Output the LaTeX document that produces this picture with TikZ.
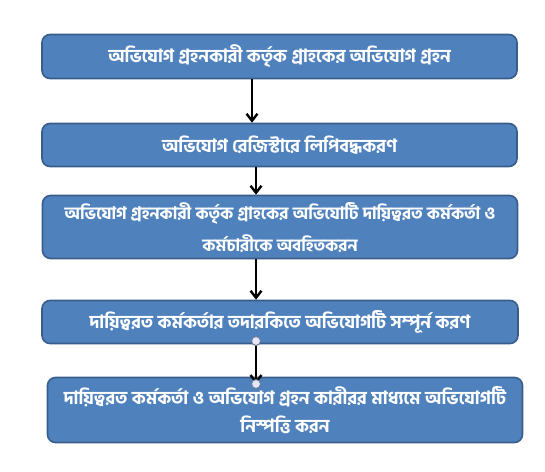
\documentclass[tikz,border=0pt]{standalone}
\usepackage{fontspec}
\newfontfamily\bnfont[Script=Bengali,BoldFont={Hind Siliguri Bold}]{Hind Siliguri}
\usepackage{tikz}
\usetikzlibrary{positioning,arrows.meta}
\definecolor{boxfill}{HTML}{4F81BD}
\definecolor{boxline}{HTML}{385D8A}
\definecolor{dotline}{HTML}{6E7F91}

\begin{document}
\begin{tikzpicture}[x=1pt,y=-1pt,
    stepbox/.style={draw=boxline,line width=1.6pt,fill=boxfill,rounded corners=8pt,
      text=white,align=center,font=\bnfont\bfseries\fontsize{18}{31}\selectfont,inner sep=0pt},
    flow/.style={line width=2.6pt,-{Straight Barb[length=7pt,width=11pt,line width=2.4pt]}},
    handle/.style={draw=dotline,fill=white!90!blue,line width=1pt}]
    \useasboundingbox (0,0) rectangle (545,471);
    % boxes
    \node[stepbox,minimum width=475pt,minimum height=44pt] (recv) at (279.5,56.5)
      {অভিযোগ গ্রহনকারী কর্তৃক গ্রাহকের অভিযোগ গ্রহন};
    \node[stepbox,minimum width=475pt,minimum height=43pt] (reg) at (279.5,145)
      {অভিযোগ রেজিস্টারে লিপিবদ্ধকরণ};
    \node[stepbox,minimum width=475pt,minimum height=63pt,
      font=\bnfont\bfseries\fontsize{17}{32}\selectfont] (inform) at (280,227)
      {অভিযোগ গ্রহনকারী কর্তৃক গ্রাহকের অভিযোটি দায়িত্বরত কর্মকর্তা ও\\কর্মচারীকে অবহিতকরন};
    \node[stepbox,minimum width=476pt,minimum height=43pt] (super) at (280,322)
      {দায়িত্বরত কর্মকর্তার তদারকিতে অভিযোগটি সম্পূর্ন করণ};
    \node[stepbox,minimum width=475pt,minimum height=65pt,
      font=\bnfont\bfseries\fontsize{18}{28}\selectfont] (settle) at (285,410)
      {দায়িত্বরত কর্মকর্তা ও অভিযোগ গ্রহন কারীরর মাধ্যমে অভিযোগটি\\নিস্পত্তি করন};
    % arrows
    \coordinate (a1) at (252,0);
    \coordinate (a2) at (256,0);
    \draw[flow] (recv.south -| a1) -- (reg.north -| a1);
    \draw[flow] (reg.south -| a2) -- (inform.north -| a2);
    \draw[flow] (inform.south -| a2) -- (super.north -| a2);
    \coordinate (h1) at (256,341);
    \coordinate (h2) at (256,384);
    \draw[flow] (h1) -- (h2);
    \draw[handle] (h1) circle (4.5pt);
    \draw[handle] (h2) circle (4.5pt);
\end{tikzpicture}
\end{document}
